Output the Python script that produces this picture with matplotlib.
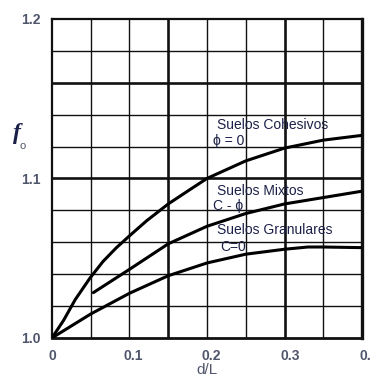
"""
Factor f_o contra d/L para suelos cohesivos, mixtos y granulares.
Salida: out.png (371x378 px).
"""

import numpy as np
import matplotlib.pyplot as plt
from matplotlib.transforms import ScaledTranslation

plt.rcParams['font.family'] = ['Liberation Sans', 'DejaVu Sans']

# curvas (d/L, f_o)
x_cohesivos = [0.0, 0.015, 0.030, 0.049, 0.066, 0.083, 0.100, 0.122, 0.150, 0.178,
               0.200, 0.250, 0.300, 0.350, 0.400]
y_cohesivos = [1.000, 1.011, 1.024, 1.0375, 1.048, 1.0565, 1.064, 1.0734, 1.084, 1.093,
               1.100, 1.111, 1.119, 1.124, 1.127]

x_mixtos = [0.0534, 0.10, 0.15, 0.20, 0.25, 0.30, 0.35, 0.40]
y_mixtos = [1.0284, 1.043, 1.059, 1.070, 1.078, 1.084, 1.088, 1.092]

x_granulares = [0.0, 0.05, 0.10, 0.15, 0.20, 0.25, 0.30, 0.33, 0.35, 0.40]
y_granulares = [1.000, 1.015, 1.028, 1.039, 1.047, 1.0525, 1.0556, 1.057, 1.057, 1.0566]

xticks = [0.0, 0.1, 0.2, 0.3, 0.4]
xtick_labels = ['0', '0.1', '0.2', '0.3', '0.4']
yticks = [1.0, 1.1, 1.2]
ytick_labels = ['1.0', '1.1', '1.2']

x_grid = np.arange(0.05, 0.40, 0.05)
y_grid = np.arange(1.02, 1.20, 0.02)
x_grid_thick = [0.15, 0.30]
y_grid_thick = [1.10, 1.16]

tick_color = '#4f566c'
text_color = '#1c2048'

fig = plt.figure(figsize=(3.71, 3.78), dpi=100)
ax = fig.add_axes([0.140, 0.106, 0.836, 0.844])

# reticula
for xg in x_grid:
    thick = any(abs(xg - t) < 1e-6 for t in x_grid_thick)
    ax.axvline(xg, color='#111111', lw=1.9 if thick else 1.0, zorder=1)
for yg in y_grid:
    thick = any(abs(yg - t) < 1e-6 for t in y_grid_thick)
    ax.axhline(yg, color='#111111', lw=1.9 if thick else 1.0, zorder=1)

ax.plot(x_cohesivos, y_cohesivos, color='black', lw=2.2, zorder=3, solid_capstyle='round')
ax.plot(x_mixtos, y_mixtos, color='black', lw=2.2, zorder=3, solid_capstyle='round')
ax.plot(x_granulares, y_granulares, color='black', lw=2.2, zorder=3, solid_capstyle='round')

tk = dict(color=text_color, fontsize=10, va='center', ha='left', zorder=4)
ax.text(0.2125, 1.1335, 'Suelos Cohesivos', **tk)
ax.text(0.2073, 1.1237, '\u03d5 = 0', **tk)
ax.text(0.2133, 1.0922, 'Suelos Mixtos', **tk)
ax.text(0.2080, 1.0830, 'C - \u03d5', **tk)
ax.text(0.2133, 1.0677, 'Suelos Granulares', **tk)
ax.text(0.2168, 1.0573, 'C=0', **tk)

ax.set_xlim(0, 0.4)
ax.set_ylim(1.0, 1.2)
ax.set_xticks(xticks, xtick_labels)
ax.set_yticks(yticks, ytick_labels)
ax.tick_params(length=0, labelsize=10, labelcolor=tick_color, pad=8)
for lbl in ax.get_xticklabels() + ax.get_yticklabels():
    lbl.set_fontweight('bold')

# las etiquetas del eje x estan corridas a la derecha en el original
shifts = [0, 3.5, 4.5, 6, 7]
for lbl, s in zip(ax.get_xticklabels(), shifts):
    lbl.set_transform(lbl.get_transform() + ScaledTranslation(s / 100, 0, fig.dpi_scale_trans))

for side, w in [('left', 1.6), ('right', 2.4), ('top', 1.6), ('bottom', 2.0)]:
    ax.spines[side].set_linewidth(w)
    ax.spines[side].set_color('#111111')

ax.set_xlabel('d/L', fontsize=11, color=tick_color, labelpad=0)

fig.text(17 / 371, 1 - 134 / 378, 'f', fontsize=17, style='italic', fontweight='bold',
         color=text_color, ha='center', va='center', family='Liberation Serif')
fig.text(23 / 371, 1 - 146 / 378, 'o', fontsize=8, color=tick_color, ha='center', va='center')

fig.savefig('out.png', dpi=100)
